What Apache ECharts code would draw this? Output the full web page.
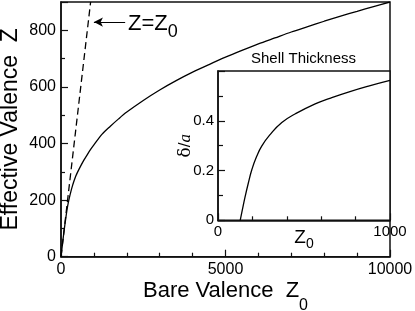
<!DOCTYPE html>
<html><head><meta charset="utf-8">
<script src="https://cdn.jsdelivr.net/npm/echarts@6/dist/echarts.min.js"></script>
<style>html,body{margin:0;padding:0;background:#fff}#c{width:415px;height:311px}</style>
</head><body><div id="c"></div>
<script>
// Main panel: effective valence Z vs bare valence Z0
const bareValence      = [0, 25, 50, 75, 100, 125, 150, 175, 200, 250, 300, 350, 400, 450, 500, 600, 700, 800, 900, 1000,
                          1250, 1500, 1750, 2000, 2500, 3000, 3500, 4000, 4500, 5000, 5500, 6000, 6500, 7000, 7500, 8000, 8500, 9000, 9500, 10000];
const effectiveValence = [0, 25, 50, 74, 97, 119, 140, 160, 178, 206, 230, 251, 269, 285, 298, 321, 342, 361, 379, 395,
                          433, 461, 487, 511, 552, 589, 622, 652, 679, 705, 729, 752, 773, 794, 813, 832, 850, 867, 884, 900];
// Dashed reference line Z = Z0
const identityX = [0, 900];
const identityY = [0, 900];
// Inset: shell thickness delta/a vs Z0
const insetZ0    = [129, 140, 158, 175, 197, 225, 255, 300, 371, 450, 565, 650, 758, 880, 1000];
const insetDelta = [0, 0.037, 0.096, 0.146, 0.204, 0.257, 0.299, 0.342, 0.393, 0.428, 0.468, 0.490, 0.515, 0.540, 0.562];

const FONT = 'Liberation Sans, Arial, Helvetica, sans-serif';
const INK = '#111';
const zip = (a, b) => a.map((v, i) => [v, b[i]]);
const plain = v => String(v);

const chart = echarts.init(document.getElementById('c'), null, {renderer: 'canvas'});

function axisBase(extra) {
  return Object.assign({
    nameMoveOverlap: false,
    axisLine: {show: true, onZero: false, lineStyle: {color: INK, width: 1.5}},
    axisTick: {show: true, inside: true, length: 7, lineStyle: {color: INK, width: 1.2}},
    minorTick: {show: true, length: 4, lineStyle: {color: INK, width: 1.2}},
    splitLine: {show: false},
    minorSplitLine: {show: false},
    axisLabel: {color: '#000', fontFamily: FONT, fontSize: 16, margin: 5, formatter: plain},
    nameTextStyle: {color: '#000', fontFamily: FONT, fontSize: 22}
  }, extra);
}

const subRich = (size) => ({s: {fontSize: size, fontFamily: FONT, color: '#000', verticalAlign: 'bottom', lineHeight: size}});

chart.setOption({
  animation: false,
  backgroundColor: '#fff',
  grid: [
    {left: 61, top: 2, width: 329, height: 254.7, outerBoundsMode: 'none', containLabel: false,
      show: true, borderColor: INK, borderWidth: 1.5, backgroundColor: 'transparent'},
    {left: 218, top: 71, width: 172, height: 149.3, outerBoundsMode: 'none', containLabel: false,
      show: true, borderColor: INK, borderWidth: 1.5, backgroundColor: '#fff'}
  ],
  xAxis: [
    axisBase({gridIndex: 0, type: 'value', min: 0, max: 10000, interval: 5000,
      minorTick: {show: true, splitNumber: 5, length: 4, lineStyle: {color: INK, width: 1.2}},
      name: 'Bare Valence  Z{s|0}', nameLocation: 'middle', nameGap: 12,
      nameTextStyle: {color: '#000', fontFamily: FONT, fontSize: 22, lineHeight: 45, rich: subRich(16)}}),
    axisBase({gridIndex: 1, type: 'value', min: 0, max: 1000, interval: 1000,
      minorTick: {show: true, splitNumber: 5, length: 4, lineStyle: {color: INK, width: 1.2}},
      axisLabel: {color: '#000', fontFamily: FONT, fontSize: 15, margin: 4, formatter: plain},
      name: 'Z{s|0}', nameLocation: 'middle', nameGap: 4,
      nameTextStyle: {color: '#000', fontFamily: FONT, fontSize: 19, lineHeight: 27, rich: subRich(14)}})
  ],
  yAxis: [
    axisBase({gridIndex: 0, type: 'value', min: 0, max: 900, interval: 200,
      minorTick: {show: true, splitNumber: 2, length: 4, lineStyle: {color: INK, width: 1.2}},
      axisLabel: {color: '#000', fontFamily: FONT, fontSize: 16, margin: 5, showMaxLabel: false, formatter: plain},
      name: 'Effective Valence  Z', nameLocation: 'middle', nameGap: 39,
      nameTextStyle: {color: '#000', fontFamily: FONT, fontSize: 23, lineHeight: 22}}),
    axisBase({gridIndex: 1, type: 'value', min: 0, max: 0.6, interval: 0.2,
      minorTick: {show: true, splitNumber: 2, length: 5, lineStyle: {color: INK, width: 1.2}},
      axisLabel: {color: '#000', fontFamily: FONT, fontSize: 15, margin: 4, showMaxLabel: false, formatter: plain},
      name: '{d|δ}/{i|a}', nameLocation: 'middle', nameGap: 24,
      nameTextStyle: {color: '#000', fontFamily: FONT, fontSize: 17,
        rich: {d: {fontSize: 17, fontFamily: 'DejaVu Serif, serif'}, i: {fontSize: 17, fontStyle: 'italic', fontFamily: 'Liberation Serif, serif'}}}})
  ],
  series: [
    {type: 'line', xAxisIndex: 0, yAxisIndex: 0, data: zip(bareValence, effectiveValence),
      showSymbol: false, smooth: 0.3, lineStyle: {color: '#000', width: 1.3}, z: 3},
    {type: 'line', xAxisIndex: 0, yAxisIndex: 0, data: zip(identityX, identityY),
      showSymbol: false, lineStyle: {color: '#000', width: 1.3, type: [7, 4]}, z: 3,
      markLine: {silent: true, symbol: ['none', 'arrow'], symbolSize: [7, 9],
        label: {show: false}, lineStyle: {color: '#000', width: 1.2, type: 'solid'},
        data: [[{coord: [1950, 829]}, {coord: [1000, 829]}]]}},
    {type: 'line', xAxisIndex: 1, yAxisIndex: 1, data: zip(insetZ0, insetDelta),
      showSymbol: false, smooth: true, lineStyle: {color: '#000', width: 1.3}, z: 4}
  ],
  graphic: [
    {type: 'text', left: 128, top: 6, z: 10,
      style: {text: 'Z=Z{s|0}', fontFamily: FONT, fontSize: 22, lineHeight: 35, fill: '#000',
        rich: {s: {fontSize: 18, fontFamily: FONT, fill: '#000', verticalAlign: 'bottom', lineHeight: 18}}}},
    {type: 'text', left: 251, top: 51, z: 10,
      style: {text: 'Shell Thickness', fontFamily: FONT, fontSize: 15, fill: '#000'}}
  ]
});
</script></body></html>
